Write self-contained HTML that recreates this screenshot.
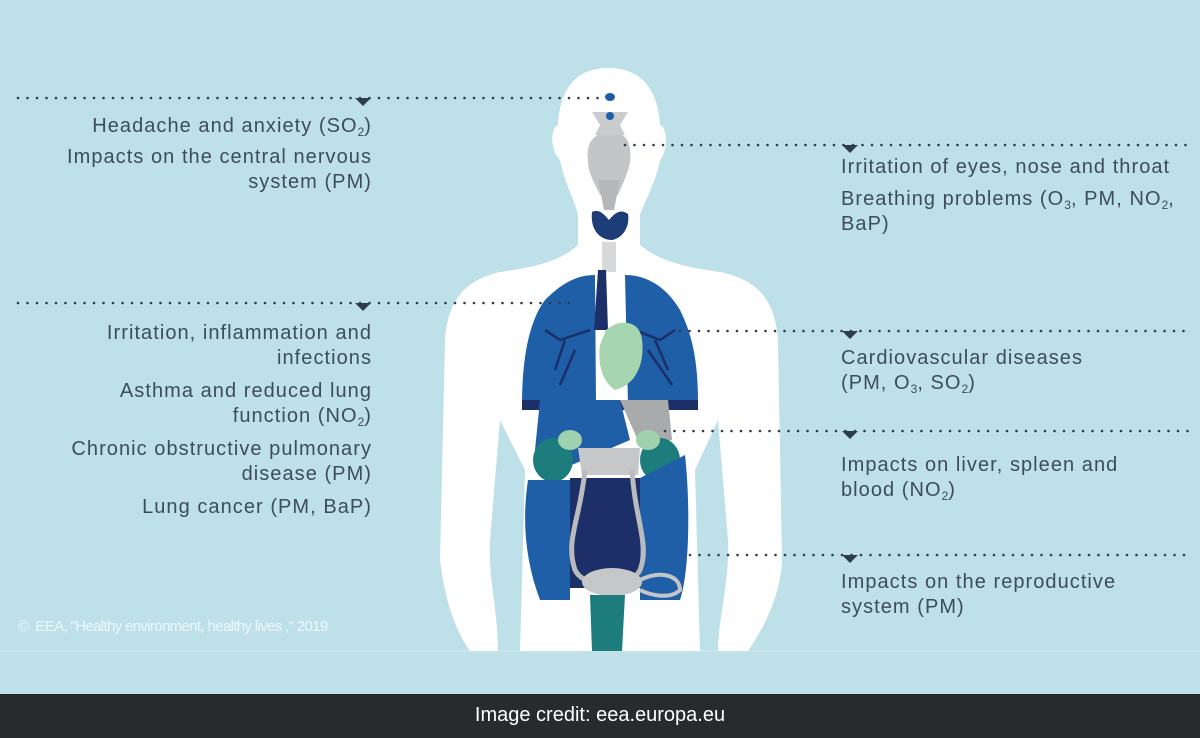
<!DOCTYPE html>
<html><head><meta charset="utf-8"><style>
body{margin:0;width:1200px;height:738px;overflow:hidden;background:#bee0e9;font-family:"Liberation Sans",sans-serif}
svg{position:absolute;left:0;top:0}
.t{position:absolute;font-size:20px;letter-spacing:1.05px;color:#3d4b5a;line-height:25px;white-space:nowrap}
.l{right:828px;text-align:right}
.r{left:841px}
sub{font-size:12px;vertical-align:-4px;line-height:0;letter-spacing:0}
#bar{position:absolute;left:0;top:694px;width:1200px;height:44px;background:#272b2e;color:#fff;font-size:20px;text-align:center;line-height:42px}
#cp{position:absolute;left:18px;top:618px;color:#eef7fa;font-size:15px;letter-spacing:-0.65px}
</style></head><body>
<svg width="1200" height="738">
<line x1="0" y1="651" x2="1200" y2="651" stroke="#d2eaf0" stroke-width="1"/>
<path fill="#fff" d="M608 68 C575 68 560 90 558 125 C550 128 550 150 560 160 C565 185 575 200 578 215 L578 245 C560 262 530 268 500 272 C465 280 448 300 445 340 L440 560 C445 600 455 630 470 651 L498 651 C498 610 488 580 490 540 L500 420 L525 470 L520 651 L700 651 L695 470 L718 420 L728 540 C730 580 718 620 718 651 L748 651 C762 630 780 600 782 560 L778 340 C775 300 758 280 720 272 C690 268 660 262 640 245 L640 215 C645 200 655 185 660 160 C668 150 668 128 660 125 C658 90 642 68 608 68Z"/>
<ellipse cx="610" cy="97" rx="5" ry="4" fill="#1f5ea8"/>
<path fill="#c9cbcd" d="M592 112 L628 112 L620 125 L625 135 L595 135 L600 125Z"/>
<circle cx="610" cy="116" r="4" fill="#1f5ea8"/>
<path fill="#c3c5c7" d="M598 135 L622 135 C632 140 632 160 628 170 C625 180 620 190 618 195 L600 195 C596 185 588 175 588 160 C586 145 592 138 598 135Z"/>
<path fill="#b5b7b9" d="M598 180 L620 180 L614 210 L604 210Z"/>
<path fill="#1d3d78" d="M592 212 C600 208 605 216 609 220 C614 214 620 208 628 214 C630 225 624 238 612 240 C600 240 590 230 592 212Z"/>
<rect x="602" y="242" width="14" height="30" fill="#d6d8da"/>
<path fill="#1f5fa8" d="M595 275 C575 275 560 285 545 300 C530 320 522 355 522 405 L596 405 Z"/>
<path fill="#1f5fa8" d="M625 275 C650 275 668 290 680 310 C695 340 698 370 698 405 L628 405 Z"/>
<g stroke="#1c2f68" stroke-width="2.5" fill="none"><path d="M590 330 L560 340 L545 330 M565 340 L555 370 M575 350 L560 385"/><path d="M635 330 L660 340 L675 330 M655 340 L668 370 M648 350 L672 385"/></g>
<path fill="#1c2f68" d="M522 400 L698 400 L698 410 L522 410Z"/>
<path fill="#1c2f68" d="M598 270 L606 270 L608 330 L594 330Z"/>
<path fill="#a6d6b0" d="M606 330 C620 318 640 320 642 340 C645 365 635 385 615 390 C600 380 598 360 600 345Z"/>
<path fill="#1f5fa8" d="M540 400 L620 400 L630 440 L560 470 L535 450Z"/>
<path fill="#a8aaac" d="M620 400 L668 400 L672 440 L640 445 Z"/>
<ellipse cx="553" cy="460" rx="20" ry="22" fill="#1d7c7c"/>
<ellipse cx="660" cy="460" rx="20" ry="22" fill="#1d7c7c"/>
<ellipse cx="570" cy="440" rx="12" ry="10" fill="#9fd1ae"/>
<ellipse cx="648" cy="440" rx="12" ry="10" fill="#9fd1ae"/>
<path fill="#c5c7c9" d="M578 448 L640 448 L638 475 L582 475Z"/>
<path fill="#1f5fa8" d="M528 480 C522 520 525 560 540 600 L570 600 L570 480Z"/>
<path fill="#1f5fa8" d="M640 478 L685 455 C690 500 690 570 680 600 L640 600Z"/>
<rect x="570" y="478" width="70" height="110" fill="#1c2f68"/>
<path fill="none" stroke="#b9bbbd" stroke-width="5" d="M585 470 C580 520 565 540 575 570 C585 590 630 590 640 570 C650 545 635 520 632 470"/>
<ellipse cx="612" cy="582" rx="30" ry="14" fill="#c5c7c9"/>
<path fill="#1d7c7c" d="M590 595 L625 595 L622 651 L592 651Z"/>
<path fill="none" stroke="#c3c5c7" stroke-width="4" d="M640 580 C660 570 680 575 680 590 C670 600 650 595 640 590"/>
<g stroke="#2d3c4e" stroke-width="2.6" stroke-linecap="round" stroke-dasharray="0 9.5">
<line x1="18" y1="98" x2="600" y2="98"/>
<line x1="625" y1="145" x2="1190" y2="145"/>
<line x1="18" y1="303" x2="570" y2="303"/>
<line x1="680" y1="331" x2="1190" y2="331"/>
<line x1="665" y1="431" x2="1190" y2="431"/>
<line x1="690" y1="555" x2="1190" y2="555"/>
</g>
<g fill="#2d3c4e">
<path d="M355 98 L371 98 L363 106Z"/>
<path d="M842 145 L858 145 L850 153Z"/>
<path d="M355 303 L371 303 L363 311Z"/>
<path d="M842 331 L858 331 L850 339Z"/>
<path d="M842 431 L858 431 L850 439Z"/>
<path d="M842 555 L858 555 L850 563Z"/>
</g>
</svg>
<div class="t l" style="top:114px">Headache and anxiety (SO<sub>2</sub>)</div>
<div class="t l" style="top:145px">Impacts on the central nervous<br>system (PM)</div>
<div class="t r" style="top:155px">Irritation of eyes, nose and throat</div>
<div class="t r" style="top:187px">Breathing problems (O<sub>3</sub>, PM, NO<sub>2</sub>,<br>BaP)</div>
<div class="t l" style="top:321px">Irritation, inflammation and<br>infections</div>
<div class="t l" style="top:379px">Asthma and reduced lung<br>function (NO<sub>2</sub>)</div>
<div class="t l" style="top:437px">Chronic obstructive pulmonary<br>disease (PM)</div>
<div class="t l" style="top:495px">Lung cancer (PM, BaP)</div>
<div class="t r" style="top:346px">Cardiovascular diseases<br>(PM, O<sub>3</sub>, SO<sub>2</sub>)</div>
<div class="t r" style="top:453px">Impacts on liver, spleen and<br>blood (NO<sub>2</sub>)</div>
<div class="t r" style="top:570px">Impacts on the reproductive<br>system (PM)</div>
<div id="cp">©&nbsp; EEA, "Healthy environment, healthy lives ," 2019</div>
<div id="bar">Image credit: eea.europa.eu</div>
</body></html>
